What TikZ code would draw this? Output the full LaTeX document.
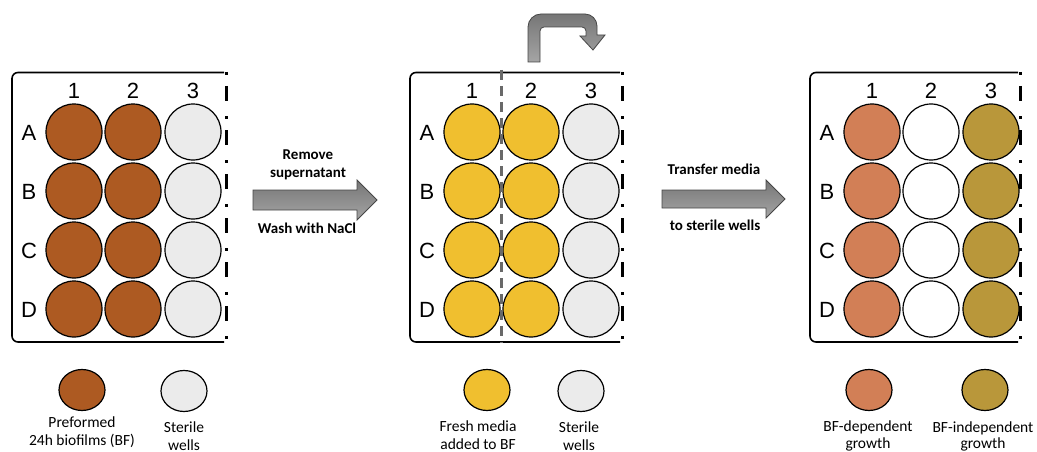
\documentclass[tikz,border=0pt]{standalone}
\usepackage{fontspec}
\setmainfont{Liberation Sans}
\newfontfamily\calfont{Carlito}
\usetikzlibrary{shapes.geometric}
\definecolor{bfbrown}{RGB}{173,90,34}
\definecolor{freshy}{RGB}{240,191,47}
\definecolor{sterileg}{RGB}{235,235,235}
\definecolor{bfdep}{RGB}{210,127,86}
\definecolor{bfind}{RGB}{185,151,58}
\definecolor{arrtop}{RGB}{118,118,118}
\definecolor{arrbot}{RGB}{165,165,165}
\definecolor{arrline}{RGB}{70,70,70}
\definecolor{midline}{RGB}{105,105,105}
\begin{document}
\begin{tikzpicture}[x=1pt,y=-1pt,
  well/.style={circle,draw=black,line width=1.2pt,minimum size=56pt,inner sep=0pt},
  plateframe/.style={draw=black,line width=1.6pt,rounded corners=6pt},
  platedge/.style={line width=3pt,dash pattern=on 3pt off 11pt on 15pt off 15pt},
  lbl/.style={font=\fontsize{22}{26}\selectfont,anchor=base,inner sep=0pt},
  captxt/.style={font=\calfont\bfseries\fontsize{15}{18}\selectfont,anchor=base,inner sep=0pt},
  legtxt/.style={font=\calfont\fontsize{15.5}{18}\selectfont,anchor=base,inner sep=0pt},
  legdot/.style={ellipse,draw=black,line width=1.2pt,minimum width=46pt,minimum height=41pt,inner sep=0pt},
  bigarrow/.style={draw=arrline,line width=0.8pt,top color=arrtop,bottom color=arrbot}]
\useasboundingbox (0,0) rectangle (1037,452);

% ---------- plate frames ----------
\foreach \L/\R in {12/226,410/622,810/1020}{
  \draw[plateframe] (\R-2,72.5) -- (\L,72.5) -- (\L,342) -- (\R-2,342);
  \draw[platedge] (\R,72) -- (\R,343);
  \foreach \c/\dx in {1/62,2/121,3/181}{
    \node[lbl] (col\L-\c) at (\L+\dx,98.5) {\c};
  }
  \foreach \r/\y in {A/132,B/191,C/250,D/309}{
    \node[lbl] (row\L-\r) at (\L+17,\y+8.5) {\r};
  }
}

% ---------- wells ----------
\foreach \r/\y in {A/132,B/191,C/250,D/309}{
  \node[well,fill=bfbrown]  (pa\r1) at (74,\y) {};
  \node[well,fill=bfbrown]  (pa\r2) at (133,\y) {};
  \node[well,fill=sterileg] (pa\r3) at (193,\y) {};
  \node[well,fill=freshy]   (pb\r1) at (472,\y) {};
  \node[well,fill=freshy]   (pb\r2) at (531,\y) {};
  \node[well,fill=sterileg] (pb\r3) at (591,\y) {};
  \node[well,fill=bfdep]    (pc\r1) at (872,\y) {};
  \node[well,fill=white]    (pc\r2) at (931,\y) {};
  \node[well,fill=bfind]    (pc\r3) at (991,\y) {};
}

% gray dashed divider in middle plate
\coordinate (divtop) at (501,70);
\coordinate (divbot) at (501,343);
\draw[midline,line width=3pt,dash pattern=on 10pt off 6pt] (divtop) -- (divbot);

% ---------- arrows ----------
\draw[bigarrow] (253,190) -- (357,190) -- (357,180) -- (377,200) -- (357,220) -- (357,210) -- (253,210) -- cycle;
\draw[bigarrow] (662,190) -- (766,190) -- (766,180) -- (785,199) -- (766,218) -- (766,208) -- (662,208) -- cycle;
\draw[bigarrow] (528,62) -- (528,27) .. controls (528,19.8) and (533.8,14) .. (541,14) -- (585,14)
  .. controls (591.6,14) and (597,19.4) .. (597,26) -- (597,35) -- (605,35) -- (593,50) -- (580,36)
  -- (586,36) -- (586,31) .. controls (586,28.8) and (584.2,27) .. (582,27) -- (544,27)
  .. controls (541.8,27) and (540,28.8) .. (540,31) -- (540,62) -- cycle;

\node[captxt] (t1a) at (308,159) {Remove};
\node[captxt] (t1b) at (308,177) {supernatant};
\node[captxt] (t1c) at (307,233) {Wash with NaCl};
\node[captxt] (t2a) at (714,174) {Transfer media};
\node[captxt] (t2b) at (715,230) {to sterile wells};

% ---------- legends ----------
\node[legdot,fill=bfbrown]  (l1) at (82,390) {};
\node[legdot,fill=sterileg] (l2) at (184,391) {};
\node[legdot,fill=freshy]   (l3) at (487,390) {};
\node[legdot,fill=sterileg] (l4) at (581,391) {};
\node[legdot,fill=bfdep]    (l5) at (869,390) {};
\node[legdot,fill=bfind]    (l6) at (985,390) {};

\node[legtxt] (g1a) at (82,427) {Preformed};
\node[legtxt] (g1b) at (82,445) {24h biofilms (BF)};
\node[legtxt] (g2a) at (184,432) {Sterile};
\node[legtxt] (g2b) at (184,450) {wells};
\node[legtxt] (g3a) at (478,431) {Fresh media};
\node[legtxt] (g3b) at (478,449) {added to BF};
\node[legtxt] (g4a) at (579,432) {Sterile};
\node[legtxt] (g4b) at (579,450) {wells};
\node[legtxt] (g5a) at (868,431) {BF-dependent};
\node[legtxt] (g5b) at (868,448) {growth};
\node[legtxt] (g6a) at (983,432) {BF-independent};
\node[legtxt] (g6b) at (983,448) {growth};
\end{tikzpicture}
\end{document}
